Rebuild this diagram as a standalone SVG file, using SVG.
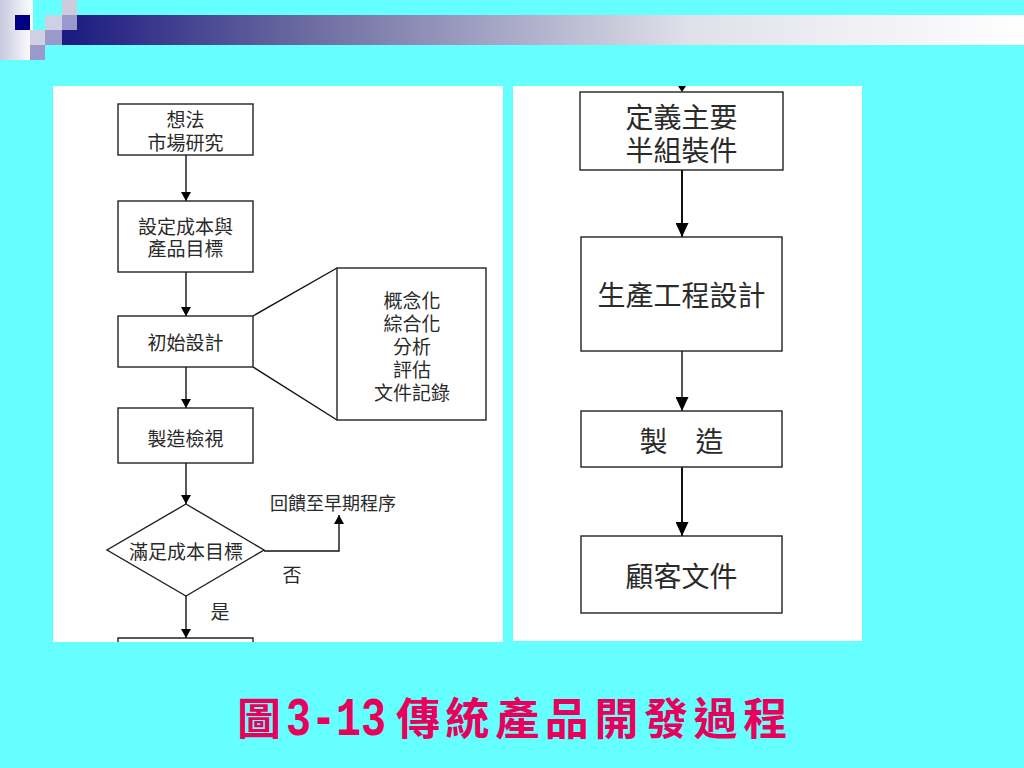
<svg xmlns="http://www.w3.org/2000/svg" width="1024" height="768" viewBox="0 0 1024 768">
<defs>
<linearGradient id="bar" x1="62" y1="0" x2="1024" y2="0" gradientUnits="userSpaceOnUse">
<stop offset="0" stop-color="#1a1a80"/>
<stop offset="0.25" stop-color="#6a6aa0"/>
<stop offset="0.65" stop-color="#e0e0ea"/>
<stop offset="1" stop-color="#ffffff"/>
</linearGradient>
<linearGradient id="strip" x1="0" y1="0" x2="1" y2="0">
<stop offset="0" stop-color="#c8c8e0"/>
<stop offset="1" stop-color="#ffffff"/>
</linearGradient>
<marker id="ah" viewBox="0 0 10 10" refX="10" refY="5" markerWidth="9" markerHeight="10" markerUnits="userSpaceOnUse" orient="auto" preserveAspectRatio="none">
<path d="M0,0 L10,5 L0,10 z" fill="#000"/>
</marker>
<marker id="ahL" viewBox="0 0 10 10" refX="10" refY="5" markerWidth="14" markerHeight="13" markerUnits="userSpaceOnUse" orient="auto" preserveAspectRatio="none">
<path d="M0,0 L10,5 L0,10 z" fill="#000"/>
</marker>
</defs>
<style>
.box{fill:#fff;stroke:#222;stroke-width:1.4}
.t{font-family:"Noto Sans CJK TC","Noto Sans CJK SC",sans-serif;fill:#2a2a2a;text-anchor:middle;dominant-baseline:central}
.s{font-size:19px}
.l{font-size:28px}
.c{fill:none;stroke:#111;stroke-width:1.4}
.cl{fill:none;stroke:#111;stroke-width:2}
</style>
<rect x="0" y="0" width="1024" height="768" fill="#66ffff"/>
<g id="decor">
<rect x="0" y="0" width="33" height="60" fill="url(#strip)"/>
<rect x="15" y="15" width="15" height="15" fill="#000080"/>
<rect x="62" y="0" width="15" height="15" fill="#ccccdd"/>
<rect x="45" y="15" width="17" height="15" fill="#d0d0e4"/>
<rect x="30" y="30" width="15" height="15" fill="#d0d0e4"/>
<rect x="45" y="30" width="17" height="15" fill="#9999cc"/>
<rect x="30" y="45" width="15" height="15" fill="#9999cc"/>
<rect x="62" y="15" width="962" height="30" fill="url(#bar)"/>
<rect x="62" y="15" width="15" height="15" fill="#9999cc"/>
</g>
<rect x="53" y="86" width="450" height="556" fill="#fff"/>
<rect x="513" y="86" width="349" height="555" fill="#fff"/>
<g id="connectors">
<line class="c" x1="186" y1="155" x2="186" y2="201" marker-end="url(#ah)"/>
<line class="c" x1="186" y1="272" x2="186" y2="316" marker-end="url(#ah)"/>
<line class="c" x1="186" y1="367" x2="186" y2="408" marker-end="url(#ah)"/>
<line class="c" x1="186" y1="463" x2="186" y2="504" marker-end="url(#ah)"/>
<polyline class="c" points="264,551 339,551 339,515" marker-end="url(#ah)"/>
<line class="c" x1="186" y1="596" x2="186" y2="638" marker-end="url(#ah)"/>
<line class="c" x1="253" y1="316" x2="337" y2="268"/>
<line class="c" x1="253" y1="367" x2="337" y2="420"/>
<polygon points="678,86 686,86 682,92" fill="#000"/>
<line class="cl" x1="682" y1="170" x2="682" y2="237" marker-end="url(#ahL)"/>
<line class="cl" x1="682" y1="351" x2="682" y2="411" marker-end="url(#ahL)" style="stroke:#555"/>
<line class="cl" x1="682" y1="467" x2="682" y2="536" marker-end="url(#ahL)"/>
</g>
<g id="n1"><rect class="box" x="118" y="104" width="135" height="51"/>
<text class="t s"><tspan x="185.5" y="118">想法</tspan><tspan x="185.5" y="141">市場研究</tspan></text></g>
<g id="n2"><rect class="box" x="118" y="201" width="135" height="71"/>
<text class="t s"><tspan x="185.5" y="225">設定成本與</tspan><tspan x="185.5" y="247">產品目標</tspan></text></g>
<g id="n3"><rect class="box" x="118" y="316" width="135" height="51"/>
<text class="t s" x="185.5" y="341.5">初始設計</text></g>
<g id="n3note"><rect class="box" x="337" y="268" width="149" height="152"/>
<text class="t s"><tspan x="412" y="299">概念化</tspan><tspan x="412" y="322">綜合化</tspan><tspan x="412" y="345">分析</tspan><tspan x="412" y="368">評估</tspan><tspan x="412" y="391">文件記錄</tspan></text></g>
<g id="n4"><rect class="box" x="118" y="408" width="135" height="55"/>
<text class="t s" x="185.5" y="437">製造檢視</text></g>
<g id="n5"><polygon class="box" points="186,504 264,550 186,596 107,550"/>
<text class="t s" x="186" y="550.5">滿足成本目標</text></g>
<g id="labels">
<text class="t" style="font-size:18px" x="333" y="502">回饋至早期程序</text>
<text class="t s" x="292" y="573">否</text>
<text class="t s" x="220" y="610">是</text>
</g>
<g id="n6"><path d="M118,642 V638 H253 V642" fill="none" stroke="#222" stroke-width="1.4"/></g>
<g id="r1"><rect class="box" x="580" y="92" width="203" height="78"/>
<text class="t l"><tspan x="681.5" y="116">定義主要</tspan><tspan x="681.5" y="149">半組裝件</tspan></text></g>
<g id="r2"><rect class="box" x="581" y="237" width="201" height="114"/>
<text class="t l" x="681.5" y="294">生產工程設計</text></g>
<g id="r3"><rect class="box" x="581" y="411" width="201" height="56"/>
<text class="t l" x="681.5" y="440">製　造</text></g>
<g id="r4"><rect class="box" x="581" y="536" width="201" height="77"/>
<text class="t l" x="681.5" y="575">顧客文件</text></g>
<g id="title">
<text y="735" fill="#e8005a" font-weight="bold" font-size="44" font-family="'Noto Sans CJK TC','Noto Sans CJK SC',sans-serif"><tspan x="237">圖</tspan><tspan x="286" font-family="'Liberation Mono',monospace" font-size="54" textLength="100" lengthAdjust="spacingAndGlyphs">3-13</tspan><tspan x="396" letter-spacing="5.6">傳統產品開發過程</tspan></text>
</g>
</svg>
